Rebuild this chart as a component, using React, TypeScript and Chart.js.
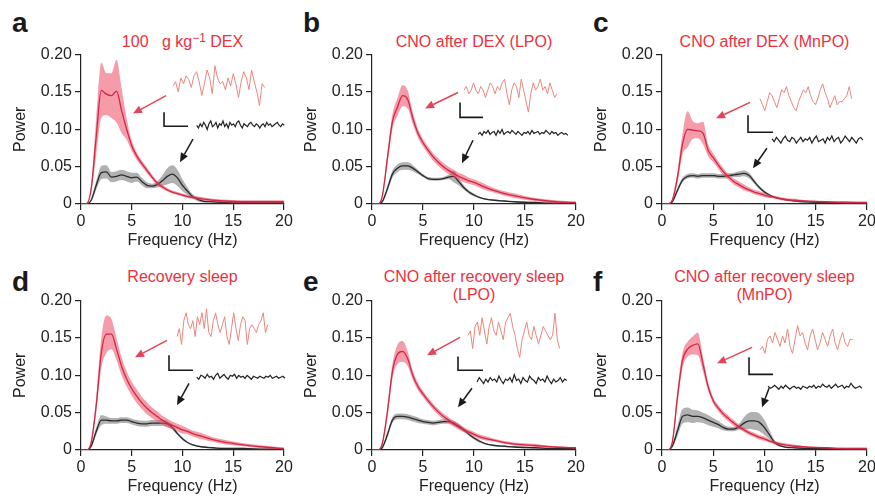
import React, { useEffect, useRef } from 'react';
import { Chart, registerables } from 'chart.js';

Chart.register(...registerables);

const FONT = '"Liberation Sans", Arial, Helvetica, sans-serif';

// ---------- shared axis data ----------
const FREQ = [0, 0.5, 1, 1.5, 2, 2.5, 3, 3.5, 4, 4.5, 5, 5.5, 6, 6.5, 7, 7.5, 8, 8.5, 9, 9.5, 10, 10.5, 11, 12, 13, 14, 16, 18, 20];
const X_MAX = 20;
const Y_MAX = 0.2;
const X_TICKS = [0, 5, 10, 15, 20];
const X_TICK_LABELS = ['0', '5', '10', '15', '20'];
const Y_TICKS = [0, 0.05, 0.1, 0.15, 0.2];
const Y_TICK_LABELS = ['0', '0.05', '0.10', '0.15', '0.20'];

// ---------- panel a ----------
const RED_MEAN_A = [0, 0, 0.02, 0.09, 0.152, 0.147, 0.145, 0.151, 0.125, 0.1, 0.078, 0.064, 0.054, 0.045, 0.036, 0.028, 0.023, 0.019, 0.016, 0.014, 0.012, 0.01, 0.009, 0.007, 0.005, 0.004, 0.003, 0.003, 0.003];
const RED_SEM_A = [0, 0, 0.004, 0.025, 0.037, 0.028, 0.03, 0.042, 0.03, 0.014, 0.007, 0.005, 0.004, 0.004, 0.003, 0.003, 0.003, 0.002, 0.002, 0.002, 0.002, 0.002, 0.002, 0.002, 0.002, 0.002, 0.002, 0.002, 0.002];
const BLACK_MEAN_A = [0, 0, 0.005, 0.025, 0.042, 0.043, 0.036, 0.037, 0.039, 0.037, 0.035, 0.036, 0.03, 0.025, 0.024, 0.026, 0.031, 0.037, 0.04, 0.035, 0.025, 0.017, 0.01, 0.004, 0.003, 0.002, 0.002, 0.002, 0.002];
const BLACK_SEM_A = [0, 0, 0.002, 0.006, 0.009, 0.009, 0.007, 0.007, 0.007, 0.007, 0.007, 0.006, 0.005, 0.004, 0.003, 0.004, 0.007, 0.011, 0.012, 0.011, 0.008, 0.005, 0.003, 0.002, 0.001, 0.001, 0.001, 0.001, 0.001];
const RED_TRACE_A = [5.2, 6.2, 3.8, 7.1, 5.7, 7.6, 6.7, 4.8, 7.6, 8.6, 6.2, 2.9, 5.7, 9, 7.1, 3.3, 10, 7.1, 5.7, 6.2, 4.3, 7.1, 5.2, 8.1, 5.7, 2.4, 6.2, 8.6, 7.1, 4.3, 9, 6.2, 3.8, 0.5, 5.7, 4.8];
const BLACK_TRACE_A = [5, 3, 6, 4, 7, 5, 2, 6, 8, 4, 5, 7, 3, 6, 5, 8, 4, 6, 3, 7, 5, 6, 4, 7, 8, 5, 3, 6, 5, 4, 6, 7, 5, 4, 6, 5, 3, 5, 6, 4, 7, 5, 6, 4, 5, 6, 7, 5, 4, 6, 5, 7];

// ---------- panel b ----------
const RED_MEAN_B = [0, 0, 0.01, 0.06, 0.11, 0.13, 0.145, 0.14, 0.115, 0.095, 0.082, 0.072, 0.063, 0.056, 0.05, 0.045, 0.041, 0.037, 0.034, 0.031, 0.029, 0.026, 0.023, 0.018, 0.014, 0.011, 0.006, 0.003, 0.002];
const RED_SEM_B = [0, 0, 0.003, 0.008, 0.01, 0.012, 0.014, 0.012, 0.008, 0.006, 0.005, 0.005, 0.005, 0.005, 0.005, 0.005, 0.005, 0.005, 0.005, 0.004, 0.004, 0.004, 0.004, 0.003, 0.003, 0.003, 0.002, 0.002, 0.001];
const BLACK_MEAN_B = [0, 0, 0.003, 0.02, 0.04, 0.048, 0.051, 0.051, 0.048, 0.043, 0.038, 0.034, 0.033, 0.033, 0.034, 0.036, 0.037, 0.03, 0.022, 0.016, 0.012, 0.009, 0.007, 0.005, 0.004, 0.003, 0.002, 0.001, 0.001];
const BLACK_SEM_B = [0, 0, 0.001, 0.004, 0.005, 0.005, 0.005, 0.005, 0.004, 0.003, 0.002, 0.002, 0.002, 0.002, 0.002, 0.003, 0.008, 0.005, 0.003, 0.002, 0.002, 0.001, 0.001, 0.001, 0.001, 0.001, 0.001, 0.001, 0.001];
const RED_TRACE_B = [6, 7, 5, 6, 8, 6, 5, 7, 6, 4, 6, 8, 7, 5, 7, 6, 8, 9, 5, 2, 6, 8, 7, 4, 9, 6, 3, 0, 5, 8, 6, 7, 9, 6, 7, 5, 8, 6, 4, 5];
const BLACK_TRACE_B = [4, 6, 3, 7, 5, 8, 4, 6, 7, 3, 8, 5, 9, 4, 6, 7, 5, 8, 6, 4, 7, 5, 3, 6, 5, 7, 4, 8, 5, 6, 7, 4, 6, 5, 8, 6, 4, 7, 5, 6, 3, 5, 6, 4, 5, 3];

// ---------- panel c ----------
const RED_MEAN_C = [0, 0, 0.005, 0.035, 0.08, 0.1, 0.099, 0.098, 0.095, 0.072, 0.062, 0.052, 0.043, 0.036, 0.03, 0.026, 0.022, 0.019, 0.016, 0.014, 0.012, 0.01, 0.009, 0.006, 0.005, 0.004, 0.003, 0.002, 0.002];
const RED_SEM_C = [0, 0, 0.002, 0.008, 0.014, 0.024, 0.012, 0.01, 0.015, 0.008, 0.006, 0.005, 0.005, 0.004, 0.004, 0.004, 0.004, 0.003, 0.003, 0.003, 0.003, 0.002, 0.002, 0.002, 0.002, 0.001, 0.001, 0.001, 0.001];
const BLACK_MEAN_C = [0, 0, 0.003, 0.018, 0.032, 0.037, 0.038, 0.037, 0.038, 0.038, 0.038, 0.037, 0.037, 0.038, 0.039, 0.04, 0.041, 0.038, 0.03, 0.022, 0.016, 0.012, 0.009, 0.006, 0.004, 0.003, 0.002, 0.002, 0.001];
const BLACK_SEM_C = [0, 0, 0.001, 0.003, 0.003, 0.003, 0.003, 0.003, 0.003, 0.003, 0.003, 0.003, 0.003, 0.003, 0.003, 0.004, 0.004, 0.004, 0.003, 0.002, 0.002, 0.001, 0.001, 0.001, 0.001, 0.001, 0.001, 0.001, 0.001];
const RED_TRACE_C = [5, 3, 1, 4, 7, 6, 4, 2, 5, 8, 7, 9, 6, 4, 2, 1, 4, 6, 8, 7, 9, 6, 4, 3, 5, 8, 10, 7, 5, 2, 4, 6, 3, 4, 4, 5, 6, 9, 5];
const BLACK_TRACE_C = [6, 4, 7, 5, 3, 6, 8, 5, 4, 7, 6, 3, 5, 7, 4, 6, 5, 7, 3, 6, 8, 4, 5, 6, 3, 7, 5, 8, 4, 6, 7, 3, 5, 8, 6, 4, 7, 5, 3, 6, 7, 5];

// ---------- panel d ----------
const RED_MEAN_D = [0, 0, 0.01, 0.06, 0.13, 0.155, 0.155, 0.135, 0.112, 0.095, 0.082, 0.072, 0.063, 0.056, 0.05, 0.045, 0.04, 0.036, 0.033, 0.03, 0.027, 0.025, 0.022, 0.018, 0.014, 0.011, 0.007, 0.004, 0.002];
const RED_SEM_D = [0, 0, 0.003, 0.01, 0.02, 0.025, 0.02, 0.015, 0.012, 0.01, 0.009, 0.009, 0.008, 0.008, 0.007, 0.007, 0.006, 0.006, 0.005, 0.005, 0.005, 0.004, 0.004, 0.004, 0.003, 0.003, 0.002, 0.002, 0.001];
const BLACK_MEAN_D = [0, 0, 0.005, 0.025, 0.04, 0.04, 0.039, 0.039, 0.04, 0.04, 0.038, 0.036, 0.035, 0.035, 0.036, 0.036, 0.036, 0.035, 0.03, 0.022, 0.015, 0.01, 0.007, 0.004, 0.003, 0.002, 0.002, 0.001, 0.001];
const BLACK_SEM_D = [0, 0, 0.002, 0.005, 0.007, 0.005, 0.004, 0.004, 0.004, 0.004, 0.004, 0.004, 0.004, 0.004, 0.004, 0.004, 0.004, 0.004, 0.003, 0.002, 0.002, 0.001, 0.001, 0.001, 0.001, 0.001, 0.001, 0.001, 0.001];
const RED_TRACE_D = [3, 5, 1, 7, 9, 6, 5, 7, 3, 8, 6, 9, 5, 10, 4, 3, 7, 9, 6, 4, 6, 8, 3, 1, 5, 9, 5, 2, 6, 8, 7, 1, 5, 6, 5, 4, 6, 7, 9, 4, 6];
const BLACK_TRACE_D = [5, 3, 7, 6, 4, 8, 5, 6, 3, 7, 9, 4, 6, 8, 5, 3, 7, 6, 8, 4, 7, 5, 6, 4, 7, 5, 3, 6, 5, 4, 6, 5, 4, 6, 5, 7, 4, 5, 6, 4, 5, 6, 4, 5];

// ---------- panel e ----------
const RED_MEAN_E = [0, 0, 0.008, 0.05, 0.105, 0.128, 0.132, 0.122, 0.1, 0.085, 0.075, 0.066, 0.058, 0.051, 0.045, 0.04, 0.035, 0.031, 0.027, 0.024, 0.021, 0.018, 0.016, 0.013, 0.01, 0.008, 0.006, 0.004, 0.003];
const RED_SEM_E = [0, 0, 0.002, 0.007, 0.01, 0.013, 0.014, 0.01, 0.006, 0.005, 0.004, 0.004, 0.004, 0.004, 0.004, 0.004, 0.004, 0.004, 0.003, 0.003, 0.003, 0.003, 0.003, 0.002, 0.002, 0.002, 0.002, 0.001, 0.001];
const BLACK_MEAN_E = [0, 0, 0.003, 0.02, 0.04, 0.045, 0.045, 0.044, 0.042, 0.04, 0.038, 0.037, 0.036, 0.037, 0.038, 0.038, 0.036, 0.032, 0.027, 0.021, 0.016, 0.012, 0.009, 0.006, 0.005, 0.004, 0.003, 0.002, 0.002];
const BLACK_SEM_E = [0, 0, 0.001, 0.004, 0.004, 0.004, 0.004, 0.004, 0.004, 0.004, 0.003, 0.003, 0.003, 0.003, 0.003, 0.003, 0.003, 0.003, 0.003, 0.002, 0.002, 0.002, 0.001, 0.001, 0.001, 0.001, 0.001, 0.001, 0.001];
const RED_TRACE_E = [5, 6, 2, 7, 8, 5, 9, 6, 3, 7, 9, 6, 5, 8, 6, 4, 8, 9, 10, 7, 5, 2, 0, 4, 6, 8, 5, 4, 7, 5, 3, 5, 7, 6, 5, 4, 5, 10, 4, 2];
const BLACK_TRACE_E = [4, 7, 5, 3, 6, 4, 7, 5, 6, 4, 8, 5, 3, 6, 5, 7, 4, 9, 5, 6, 3, 7, 5, 4, 8, 6, 5, 3, 7, 5, 6, 4, 8, 5, 3, 6, 4, 5, 7, 4, 6, 5];

// ---------- panel f ----------
const RED_MEAN_F = [0, 0, 0.01, 0.07, 0.12, 0.135, 0.14, 0.142, 0.115, 0.085, 0.066, 0.056, 0.048, 0.042, 0.036, 0.031, 0.027, 0.023, 0.02, 0.017, 0.015, 0.012, 0.01, 0.007, 0.005, 0.004, 0.003, 0.002, 0.002];
const RED_SEM_F = [0, 0, 0.003, 0.01, 0.01, 0.01, 0.012, 0.015, 0.01, 0.006, 0.004, 0.004, 0.004, 0.004, 0.004, 0.003, 0.003, 0.003, 0.003, 0.003, 0.003, 0.002, 0.002, 0.002, 0.002, 0.001, 0.001, 0.001, 0.001];
const BLACK_MEAN_F = [0, 0, 0.005, 0.025, 0.045, 0.047, 0.045, 0.045, 0.043, 0.04, 0.037, 0.034, 0.03, 0.028, 0.028, 0.031, 0.036, 0.039, 0.039, 0.037, 0.03, 0.02, 0.01, 0.004, 0.003, 0.002, 0.002, 0.001, 0.001];
const BLACK_SEM_F = [0, 0, 0.002, 0.007, 0.01, 0.01, 0.009, 0.008, 0.007, 0.007, 0.006, 0.005, 0.004, 0.003, 0.003, 0.004, 0.008, 0.011, 0.012, 0.012, 0.01, 0.006, 0.003, 0.001, 0.001, 0.001, 0.001, 0.001, 0.001];
const RED_TRACE_F = [3, 4, 2, 6, 7, 5, 8, 6, 4, 7, 5, 9, 4, 2, 6, 10, 7, 8, 5, 3, 7, 9, 6, 3, 5, 8, 6, 4, 7, 9, 5, 3, 6, 8, 5, 4, 6, 6];
const BLACK_TRACE_F = [6, 4, 5, 7, 5, 3, 6, 4, 7, 5, 3, 5, 6, 4, 5, 3, 6, 5, 4, 6, 5, 7, 4, 6, 5, 8, 6, 5, 7, 4, 6, 8, 5, 6, 7, 4, 6, 5, 9, 6, 4, 5, 6, 4];

// ---------- inset placement (in Hz / power units) ----------
// trace boxes: [freqStart, freqEnd, powerBottom, powerTop]; arrows: [fromF, fromP, toF, toP]; bar: [f, pTop, pBottom, fEnd]
const INSETS = {
  a: { red: [9.06, 18.1, 0.129, 0.185], black: [11.4, 20.2, 0.096, 0.115], redArrow: [8.38, 0.145, 5.12, 0.121], blackArrow: [11.03, 0.0867, 9.75, 0.056], bar: [8.18, 0.1227, 0.104, 10.54] },
  b: { red: [9.02, 18.14, 0.123, 0.172], black: [10.4, 19.2, 0.088, 0.101], redArrow: [8.43, 0.1493, 5.2, 0.128], blackArrow: [9.9, 0.0853, 8.82, 0.0547], bar: [8.63, 0.136, 0.116, 10.88] },
  c: { red: [9.56, 18.5, 0.121, 0.161], black: [10.73, 19.6, 0.076, 0.0947], redArrow: [8.59, 0.136, 5.27, 0.1147], blackArrow: [10.24, 0.0747, 8.88, 0.048], bar: [8.39, 0.1187, 0.096, 10.83] },
  d: { red: [9.46, 18.4, 0.136, 0.189], black: [11.4, 20.3, 0.0907, 0.104], redArrow: [8.47, 0.1467, 5.32, 0.124], blackArrow: [10.64, 0.0893, 9.46, 0.06], bar: [8.67, 0.1267, 0.1067, 11.03] },
  e: { red: [9.41, 18.4, 0.124, 0.183], black: [10.3, 19.1, 0.083, 0.103], redArrow: [8.63, 0.1507, 5.39, 0.1267], blackArrow: [9.8, 0.0827, 8.43, 0.0573], bar: [8.43, 0.1253, 0.1067, 10.88] },
  f: { red: [9.56, 18.6, 0.12, 0.1667], black: [10.34, 19.5, 0.0773, 0.0907], redArrow: [8.78, 0.1373, 5.37, 0.116], blackArrow: [10.44, 0.0827, 9.76, 0.0573], bar: [8.49, 0.124, 0.1013, 10.83] },
};

// ---------- styles ----------
const RED_LINE = 'rgb(210, 40, 66)';
const RED_BAND = 'rgba(238, 72, 98, 0.55)';
const RED_TRACE = 'rgb(236, 134, 124)';
const RED_ARROW = 'rgb(226, 68, 88)';
const BLACK_LINE = '#2b2b2b';
const BLACK_BAND = 'rgba(70, 70, 70, 0.42)';
const BLACK_TRACE = '#222';
const TITLE_RED = 'rgb(236, 48, 62)';
const AXIS = '#222';

const PAD_TOP = 12;
const PAD_RIGHT = 14;
const Y_AXIS_W = 70;
const X_AXIS_H = 48;

const annotPlugin = {
  id: 'annot',
  afterDatasetsDraw(chart: any, _args: any, opts: any) {
    const { ctx } = chart;
    const xs = chart.scales.x;
    const ys = chart.scales.y;
    const px = (v: number) => xs.getPixelForValue(v);
    const py = (v: number) => ys.getPixelForValue(v);
    const arrow = (a: number[], color: string) => {
      const x1 = px(a[0]), y1 = py(a[1]), x2 = px(a[2]), y2 = py(a[3]);
      const ang = Math.atan2(y2 - y1, x2 - x1);
      const hl = 9, hw = 4;
      const bx = x2 - hl * Math.cos(ang), by = y2 - hl * Math.sin(ang);
      ctx.save();
      ctx.strokeStyle = color;
      ctx.fillStyle = color;
      ctx.lineWidth = 1.5;
      ctx.beginPath();
      ctx.moveTo(x1, y1);
      ctx.lineTo(bx, by);
      ctx.stroke();
      ctx.beginPath();
      ctx.moveTo(x2, y2);
      ctx.lineTo(bx - hw * Math.sin(ang), by + hw * Math.cos(ang));
      ctx.lineTo(bx + hw * Math.sin(ang), by - hw * Math.cos(ang));
      ctx.closePath();
      ctx.fill();
      ctx.restore();
    };
    arrow(opts.redArrow, RED_ARROW);
    arrow(opts.blackArrow, '#1a1a1a');
    const b = opts.bar;
    ctx.save();
    ctx.strokeStyle = '#1a1a1a';
    ctx.lineWidth = 1.6;
    ctx.beginPath();
    ctx.moveTo(px(b[0]), py(b[1]));
    ctx.lineTo(px(b[0]), py(b[2]));
    ctx.lineTo(px(b[3]), py(b[2]));
    ctx.stroke();
    ctx.restore();
  },
};

function placeX(box: number[], n: number) {
  const per = (box[1] - box[0]) / (n - 1);
  const min = -box[0] / per;
  return { min, max: min + X_MAX / per };
}
function placeY(box: number[]) {
  const k = 10 / (box[3] - box[2]);
  const min = -box[2] * k;
  return { min, max: min + Y_MAX * k };
}

type PanelProps = {
  letter: string;
  titleLines: React.ReactNode[];
  left: number; top: number; w: number; h: number;
  redMean: number[]; redSem: number[]; blackMean: number[]; blackSem: number[];
  redTrace: number[]; blackTrace: number[];
  inset: any;
};

function Panel(p: PanelProps) {
  const ref = useRef<HTMLCanvasElement>(null);
  const cw = p.w + Y_AXIS_W + PAD_RIGHT;
  const ch = p.h + PAD_TOP + X_AXIS_H;

  useEffect(() => {
    const pts = (arr: number[]) => FREQ.map((f, i) => ({ x: f, y: arr[i] }));
    const band = (m: number[], s: number[], sign: number) => FREQ.map((f, i) => ({ x: f, y: Math.max(0, m[i] + sign * s[i]) }));
    const idx = (arr: number[]) => arr.map((v, i) => ({ x: i, y: v }));
    const common = { pointRadius: 0, cubicInterpolationMode: 'monotone' as const };
    const tickFont = { family: FONT, size: 16 };
    const chart = new Chart(ref.current as HTMLCanvasElement, {
      type: 'line',
      data: {
        datasets: [
          { ...common, data: band(p.redMean, p.redSem, 1), fill: '+1', backgroundColor: RED_BAND, borderColor: 'rgba(0,0,0,0)', borderWidth: 0, order: 4 },
          { ...common, data: band(p.redMean, p.redSem, -1), fill: false, borderColor: 'rgba(0,0,0,0)', borderWidth: 0, order: 4 },
          { ...common, data: pts(p.redMean), fill: false, borderColor: RED_LINE, borderWidth: 1.3, order: 3 },
          { ...common, data: band(p.blackMean, p.blackSem, 1), fill: '+1', backgroundColor: BLACK_BAND, borderColor: 'rgba(0,0,0,0)', borderWidth: 0, order: 6 },
          { ...common, data: band(p.blackMean, p.blackSem, -1), fill: false, borderColor: 'rgba(0,0,0,0)', borderWidth: 0, order: 6 },
          { ...common, data: pts(p.blackMean), fill: false, borderColor: BLACK_LINE, borderWidth: 1.3, order: 5 },
          { pointRadius: 0, data: idx(p.redTrace), fill: false, borderColor: RED_TRACE, borderWidth: 1, xAxisID: 'xRed', yAxisID: 'yRed', order: 1, clip: false as any },
          { pointRadius: 0, data: idx(p.blackTrace), fill: false, borderColor: BLACK_TRACE, borderWidth: 1.2, xAxisID: 'xBlk', yAxisID: 'yBlk', order: 1, clip: false as any },
        ] as any,
      },
      options: {
        responsive: false,
        animation: false,
        devicePixelRatio: 1,
        layout: { padding: { top: PAD_TOP, right: PAD_RIGHT, left: 0, bottom: 0 } },
        plugins: {
          legend: { display: false },
          tooltip: { enabled: false },
          annot: p.inset,
        } as any,
        scales: {
          x: {
            type: 'linear', min: 0, max: X_MAX,
            afterBuildTicks: (s: any) => { s.ticks = X_TICKS.map((v) => ({ value: v })); },
            afterFit: (s: any) => { s.height = X_AXIS_H; },
            grid: { drawOnChartArea: false, drawTicks: true, tickLength: 6, color: AXIS, lineWidth: 1.2 },
            border: { display: true, color: AXIS, width: 1.2 },
            ticks: { color: AXIS, font: tickFont, padding: 2, maxRotation: 0, autoSkip: false, callback: (_v: any, i: number) => X_TICK_LABELS[i] },
            title: { display: true, text: 'Frequency (Hz)', color: AXIS, font: tickFont, padding: { top: 0, bottom: 2 } },
          },
          y: {
            type: 'linear', min: 0, max: Y_MAX,
            afterBuildTicks: (s: any) => { s.ticks = Y_TICKS.map((v) => ({ value: v })); },
            afterFit: (s: any) => { s.width = Y_AXIS_W; },
            grid: { drawOnChartArea: false, drawTicks: true, tickLength: 6, color: AXIS, lineWidth: 1.2 },
            border: { display: true, color: AXIS, width: 1.2 },
            ticks: { color: AXIS, font: tickFont, padding: 3, autoSkip: false, callback: (_v: any, i: number) => Y_TICK_LABELS[i] },
            title: { display: true, text: 'Power', color: AXIS, font: tickFont, padding: { top: 0, bottom: 0 } },
          },
          xRed: { type: 'linear', axis: 'x', position: 'bottom', display: false, ...placeX(p.inset.red, p.redTrace.length) },
          yRed: { type: 'linear', axis: 'y', position: 'left', display: false, ...placeY(p.inset.red) },
          xBlk: { type: 'linear', axis: 'x', position: 'bottom', display: false, ...placeX(p.inset.black, p.blackTrace.length) },
          yBlk: { type: 'linear', axis: 'y', position: 'left', display: false, ...placeY(p.inset.black) },
        } as any,
      },
      plugins: [annotPlugin as any],
    });
    return () => chart.destroy();
  }, []);

  const firstBaseline = p.top - (p.top > 100 ? 18 : 7);
  return (
    <>
      <div style={{ position: 'absolute', left: p.left - 69, top: (p.top > 100 ? 292 : 33) - 26, fontFamily: FONT, fontWeight: 'bold', fontSize: 28, lineHeight: '32px', color: '#1a1a1a' }}>{p.letter}</div>
      {p.titleLines.map((t, i) => (
        <div key={i} style={{ position: 'absolute', left: p.left, width: p.w, top: firstBaseline + i * 18 - 15, textAlign: 'center', fontFamily: FONT, fontSize: 16, lineHeight: '20px', color: TITLE_RED, whiteSpace: 'pre' }}>{t}</div>
      ))}
      <canvas ref={ref} width={cw} height={ch} style={{ position: 'absolute', left: p.left - Y_AXIS_W, top: p.top - PAD_TOP, width: cw, height: ch }} />
    </>
  );
}

export default function App() {
  return (
    <div style={{ position: 'absolute', left: 0, top: 0, width: 875, height: 498, background: '#fff', overflow: 'hidden' }}>
      <Panel letter="a" titleLines={[<span>100   g kg<sup style={{ fontSize: 12, verticalAlign: 'top', position: 'relative', top: -4 }}>−1</sup> DEX</span>]}
        left={81} top={54} w={203} h={150}
        redMean={RED_MEAN_A} redSem={RED_SEM_A} blackMean={BLACK_MEAN_A} blackSem={BLACK_SEM_A}
        redTrace={RED_TRACE_A} blackTrace={BLACK_TRACE_A} inset={INSETS.a} />
      <Panel letter="b" titleLines={['CNO after DEX (LPO)']}
        left={372} top={54} w={204} h={150}
        redMean={RED_MEAN_B} redSem={RED_SEM_B} blackMean={BLACK_MEAN_B} blackSem={BLACK_SEM_B}
        redTrace={RED_TRACE_B} blackTrace={BLACK_TRACE_B} inset={INSETS.b} />
      <Panel letter="c" titleLines={['CNO after DEX (MnPO)']}
        left={662} top={54} w={205} h={150}
        redMean={RED_MEAN_C} redSem={RED_SEM_C} blackMean={BLACK_MEAN_C} blackSem={BLACK_SEM_C}
        redTrace={RED_TRACE_C} blackTrace={BLACK_TRACE_C} inset={INSETS.c} />
      <Panel letter="d" titleLines={['Recovery sleep']}
        left={81} top={300} w={203} h={150}
        redMean={RED_MEAN_D} redSem={RED_SEM_D} blackMean={BLACK_MEAN_D} blackSem={BLACK_SEM_D}
        redTrace={RED_TRACE_D} blackTrace={BLACK_TRACE_D} inset={INSETS.d} />
      <Panel letter="e" titleLines={['CNO after recovery sleep', '(LPO)']}
        left={372} top={300} w={204} h={150}
        redMean={RED_MEAN_E} redSem={RED_SEM_E} blackMean={BLACK_MEAN_E} blackSem={BLACK_SEM_E}
        redTrace={RED_TRACE_E} blackTrace={BLACK_TRACE_E} inset={INSETS.e} />
      <Panel letter="f" titleLines={['CNO after recovery sleep', '(MnPO)']}
        left={662} top={300} w={205} h={150}
        redMean={RED_MEAN_F} redSem={RED_SEM_F} blackMean={BLACK_MEAN_F} blackSem={BLACK_SEM_F}
        redTrace={RED_TRACE_F} blackTrace={BLACK_TRACE_F} inset={INSETS.f} />
    </div>
  );
}
